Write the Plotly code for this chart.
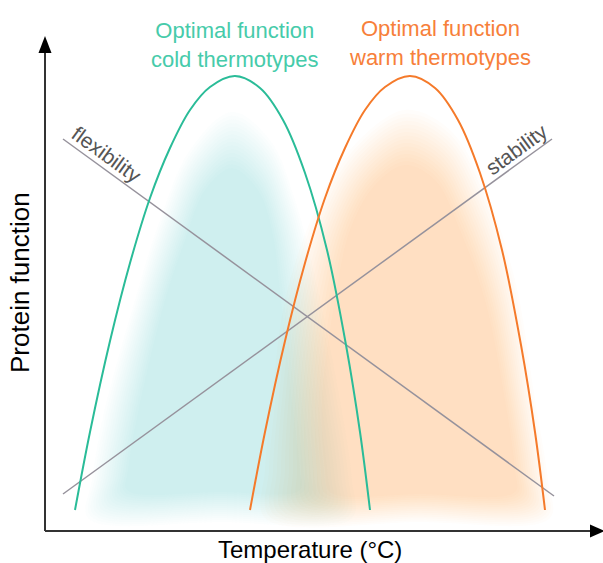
import plotly.graph_objects as go

# ---------------- data (conceptual units: temperature / protein function) ----------------
cold_temp = [30, 45, 65, 85, 105, 125, 145, 165, 190, 215, 238, 260, 282, 301, 315, 325]
cold_func = [21, 99, 190, 268, 333, 383, 421, 444, 455, 443, 411, 358, 281, 186, 99, 21]

warm_temp = [205, 220, 240, 260, 280, 300, 320, 340, 365, 390, 413, 435, 457, 476, 490, 500]
warm_func = [21, 99, 190, 268, 333, 383, 421, 444, 455, 443, 411, 358, 281, 186, 99, 21]

flex_temp = [18, 509]
flex_func = [392, 35]
stab_temp = [18, 507]
stab_func = [37, 392]

cold_label = "Optimal function<br>cold thermotypes"
warm_label = "Optimal function<br>warm thermotypes"
flex_label = "flexibility"
stab_label = "stability"
x_title = "Temperature (°C)"
y_title = "Protein function"

# ---------------- styling ----------------
FONT = "Liberation Sans, Arial, sans-serif"
TEAL_LINE = "rgb(42,188,152)"
TEAL_TEXT = "rgb(70,203,170)"
ORANGE_LINE = "rgb(245,122,42)"
ORANGE_TEXT = "rgb(247,128,58)"
GRAY = "rgb(150,146,156)"
AXIS = "#333333"

# soft glow outlines (outer edge -> solid core), in the same units
def px(pts):
    return [(x - 45, 531 - y) for x, y in pts]

teal_outer = px([(88, 518), (92, 480), (103, 417), (135, 300), (160, 220), (190, 150), (232, 112),
                 (270, 140), (295, 200), (318, 290), (340, 400), (352, 480), (352, 518), (220, 522)])
teal_inner = px([(127, 490), (128, 470), (137, 417), (165, 300), (185, 240), (205, 190), (232, 168),
                 (258, 190), (272, 230), (280, 290), (292, 400), (300, 470), (300, 490), (220, 492)])
orange_outer = px([(265, 518), (265, 470), (272, 400), (285, 300), (315, 210), (350, 150), (405, 110),
                   (450, 130), (485, 190), (515, 280), (535, 400), (548, 480), (550, 518), (420, 522)])
orange_inner = px([(330, 492), (325, 470), (322, 400), (335, 300), (350, 230), (375, 185), (405, 165),
                   (435, 180), (460, 230), (485, 300), (505, 400), (515, 470), (515, 492), (420, 494)])

fig = go.Figure()

def add_glow(outer, inner, rgb, n=16, alpha=0.02):
    for i in range(n):
        t = i / (n - 1)
        xs = [o[0] + (c[0] - o[0]) * t for o, c in zip(outer, inner)]
        ys = [o[1] + (c[1] - o[1]) * t for o, c in zip(outer, inner)]
        xs.append(xs[0]); ys.append(ys[0])
        fig.add_trace(go.Scatter(x=xs, y=ys, mode="lines", fill="toself",
                                 line=dict(width=0, shape="spline", smoothing=1.0),
                                 fillcolor=f"rgba({rgb},{alpha})",
                                 hoverinfo="skip", showlegend=False))

add_glow(teal_outer, teal_inner, "92,204,182")
add_glow(orange_outer, orange_inner, "248,136,72")

# crossing lines
fig.add_trace(go.Scatter(x=flex_temp, y=flex_func, mode="lines",
                         line=dict(color=GRAY, width=1.5), hoverinfo="skip", showlegend=False))
fig.add_trace(go.Scatter(x=stab_temp, y=stab_func, mode="lines",
                         line=dict(color=GRAY, width=1.5), hoverinfo="skip", showlegend=False))

# optimal function curves
fig.add_trace(go.Scatter(x=cold_temp, y=cold_func, mode="lines",
                         line=dict(color=TEAL_LINE, width=2, shape="spline", smoothing=1.0),
                         hoverinfo="skip", showlegend=False))
fig.add_trace(go.Scatter(x=warm_temp, y=warm_func, mode="lines",
                         line=dict(color=ORANGE_LINE, width=2, shape="spline", smoothing=1.0),
                         hoverinfo="skip", showlegend=False))

# axes with arrows
shapes = [
    dict(type="line", x0=0, y0=0, x1=0, y1=482, line=dict(color=AXIS, width=2)),
    dict(type="line", x0=0, y0=0, x1=548, y1=0, line=dict(color=AXIS, width=2)),
    dict(type="path", path="M -6.5,478 L 6.5,478 L 0,495 Z", fillcolor="black", line=dict(width=0)),
    dict(type="path", path="M 545,-6.5 L 545,6.5 L 560,0 Z", fillcolor="black", line=dict(width=0)),
]

annotations = [
    dict(x=190, y=486, text=cold_label, showarrow=False, xanchor="center", yanchor="middle",
         font=dict(family=FONT, size=22, color=TEAL_TEXT)),
    dict(x=395, y=488, text=warm_label, showarrow=False, xanchor="center", yanchor="middle",
         font=dict(family=FONT, size=22, color=ORANGE_TEXT)),
    dict(x=62, y=377, text=flex_label, showarrow=False, textangle=36, xanchor="center", yanchor="middle",
         font=dict(family=FONT, size=21, color="#555555")),
    dict(x=471, y=382, text=stab_label, showarrow=False, textangle=-36, xanchor="center", yanchor="middle",
         font=dict(family=FONT, size=21, color="#555555")),
    dict(x=-25, y=248, text=y_title, showarrow=False, textangle=-90, xanchor="center", yanchor="middle",
         font=dict(family=FONT, size=26, color="black")),
    dict(x=265, y=-18, text=x_title, showarrow=False, xanchor="center", yanchor="middle",
         font=dict(family=FONT, size=24, color="black")),
]

fig.update_layout(
    width=603, height=563,
    margin=dict(l=0, r=0, t=0, b=0),
    paper_bgcolor="white", plot_bgcolor="white",
    xaxis=dict(range=[-45, 558], visible=False, fixedrange=True),
    yaxis=dict(range=[-32, 531], visible=False, fixedrange=True),
    shapes=shapes, annotations=annotations,
    showlegend=False,
)

fig.write_html("out.html",
               config={"displayModeBar": False},
               post_script="document.body.style.margin='0';document.body.style.overflow='hidden';")
